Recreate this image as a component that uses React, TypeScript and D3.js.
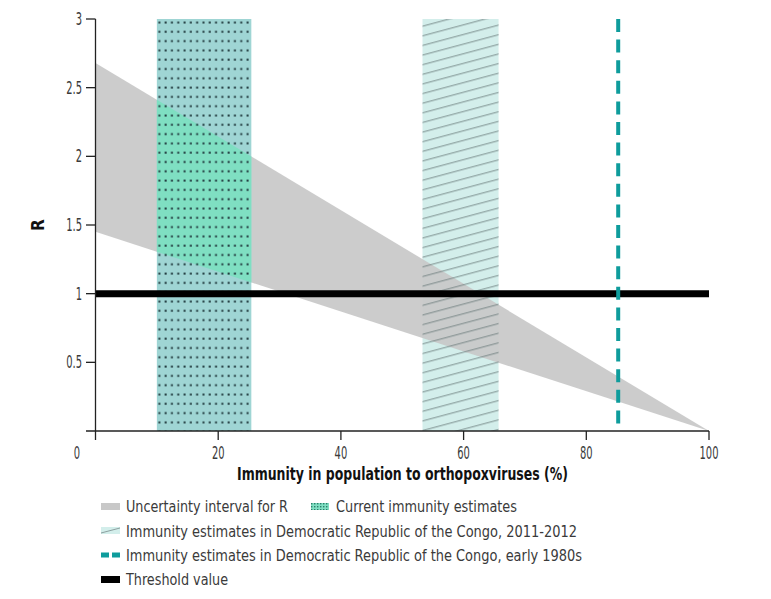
import React from "react";
import * as d3 from "d3";

const W = 771;
const H = 599;

// data
const bandX = [0, 100];
const bandUpper = [2.68, 0];
const bandLower = [1.45, 0];
const currentImmunity = [10, 25.4];
const drc2011 = [53.3, 65.7];
const drc1980s = 85.2;
const threshold = 1;
const xTicks = [20, 40, 60, 80, 100];
const yTicks = [0.5, 1, 1.5, 2, 2.5, 3];
const yTickLabels = ["0.5", "1", "1.5", "2", "2.5", "3"];
const legendItems = [
  "Uncertainty interval for R",
  "Current immunity estimates",
  "Immunity estimates in Democratic Republic of the Congo, 2011-2012",
  "Immunity estimates in Democratic Republic of the Congo, early 1980s",
  "Threshold value",
];
const legendWidths = [162, 181, 451, 456, 102];

const FONT = "'DejaVu Sans Condensed', 'Liberation Sans Narrow', sans-serif";

export default function App() {
  const x = d3.scaleLinear().domain([0, 100]).range([95.5, 709]);
  const y = d3.scaleLinear().domain([0, 3]).range([431, 19]);

  const bandPts = bandX.map((v, i) => ({ x: v, hi: bandUpper[i], lo: bandLower[i] }));
  const area = d3
    .area<{ x: number; hi: number; lo: number }>()
    .x((d) => x(d.x))
    .y0((d) => y(d.lo))
    .y1((d) => y(d.hi));
  const bandPath = area(bandPts) || "";

  const grey = "#c8c8c8";
  const tealLight = "#9fd5d4";
  const green = "#7fdfc2";
  const hatchFill = "#d3eeeb";
  const dashTeal = "#0e9c9c";
  const textCol = "#3a3a3a";
  const tickFs = 17;
  const tickSx = 0.65;

  return (
    <svg
      width={W}
      height={H}
      style={{ position: "absolute", left: 0, top: 0, background: "#fff" }}
      fontFamily={FONT}
    >
      <defs>
        <pattern
          id="dots"
          patternUnits="userSpaceOnUse"
          width={6.3}
          height={9.3}
          x={x(currentImmunity[0]) + 1}
          y={y(3) + 2}
        >
          <rect x={0.5} y={0.5} width={2} height={2} fill="#223c40" />
        </pattern>
        <pattern id="dotsLeg" patternUnits="userSpaceOnUse" width={3} height={3} x={311} y={503}>
          <rect x={0} y={0} width={1.4} height={1.4} fill="#2c7d6a" />
        </pattern>
        <pattern
          id="hatch"
          patternUnits="userSpaceOnUse"
          width={60}
          height={9.3}
          patternTransform="rotate(-15)"
        >
          <line x1={0} x2={60} y1={4.5} y2={4.5} stroke="#667777" strokeWidth={0.8} />
        </pattern>
        <clipPath id="bandClip">
          <path d={bandPath} />
        </clipPath>
      </defs>

      {/* hatch band fill */}
      <rect
        x={x(drc2011[0])}
        y={y(3)}
        width={x(drc2011[1]) - x(drc2011[0])}
        height={y(0) - y(3)}
        fill={hatchFill}
      />

      {/* uncertainty band */}
      <path d={bandPath} fill={grey} opacity={0.92} />

      {/* hatch lines */}
      <rect
        x={x(drc2011[0])}
        y={y(3)}
        width={x(drc2011[1]) - x(drc2011[0])}
        height={y(0) - y(3)}
        fill="url(#hatch)"
      />

      {/* current immunity band */}
      <rect
        x={x(currentImmunity[0])}
        y={y(3)}
        width={x(currentImmunity[1]) - x(currentImmunity[0])}
        height={y(0) - y(3)}
        fill={tealLight}
      />
      <rect
        x={x(currentImmunity[0])}
        y={y(3)}
        width={x(currentImmunity[1]) - x(currentImmunity[0])}
        height={y(0) - y(3)}
        fill={green}
        clipPath="url(#bandClip)"
      />
      <rect
        x={x(currentImmunity[0])}
        y={y(3)}
        width={x(currentImmunity[1]) - x(currentImmunity[0])}
        height={y(0) - y(3)}
        fill="url(#dots)"
      />

      {/* threshold */}
      <line x1={x(0)} x2={x(100)} y1={y(threshold)} y2={y(threshold)} stroke="#000" strokeWidth={7} />

      {/* 1980s dashed */}
      <line
        x1={x(drc1980s)}
        x2={x(drc1980s)}
        y1={y(3)}
        y2={y(0)}
        stroke={dashTeal}
        strokeWidth={4}
        strokeDasharray="13 7.6"
      />

      {/* axes */}
      <line x1={x(0)} x2={x(0)} y1={y(3)} y2={y(0)} stroke="#222" strokeWidth={1.3} />
      <line x1={86} x2={x(100)} y1={y(0)} y2={y(0)} stroke="#222" strokeWidth={1.3} />
      {yTicks.map((t, i) => (
        <g key={t}>
          <line x1={86} x2={x(0)} y1={y(t)} y2={y(t)} stroke="#222" strokeWidth={1.3} />
          <g transform={`translate(82 ${y(t)}) scale(${tickSx} 1)`}>
            <text x={0} y={0} dy="0.36em" textAnchor="end" fontSize={tickFs} fill={textCol}>
              {yTickLabels[i]}
            </text>
          </g>
        </g>
      ))}
      <line x1={x(0)} x2={x(0)} y1={y(0)} y2={y(0) + 9} stroke="#222" strokeWidth={1.3} />
      {xTicks.map((t) => (
        <g key={t}>
          <line x1={x(t)} x2={x(t)} y1={y(0)} y2={y(0) + 9} stroke="#222" strokeWidth={1.3} />
          <g transform={`translate(${x(t)} 459) scale(${tickSx} 1)`}>
            <text x={0} y={0} textAnchor="middle" fontSize={tickFs} fill={textCol}>
              {t}
            </text>
          </g>
        </g>
      ))}
      <g transform={`translate(77 459) scale(${tickSx} 1)`}>
        <text x={0} y={0} textAnchor="middle" fontSize={tickFs} fill={textCol}>
          0
        </text>
      </g>

      {/* axis titles */}
      <text
        x={237}
        y={480}
        fontSize={17}
        fontWeight="bold"
        fill="#111"
        textLength={331}
        lengthAdjust="spacingAndGlyphs"
      >
        Immunity in population to orthopoxviruses (%)
      </text>
      <text
        transform={`translate(44, ${y(1.5)}) rotate(-90)`}
        textAnchor="middle"
        fontSize={17}
        fontWeight="bold"
        fill="#111"
      >
        R
      </text>

      {/* legend */}
      <g fontSize={16} fill={textCol}>
        <rect x={101} y={503} width={19} height={7} fill={grey} />
        <text x={126} y={512} textLength={legendWidths[0]} lengthAdjust="spacingAndGlyphs">
          {legendItems[0]}
        </text>

        <rect x={311} y={503} width={18} height={7} fill={green} />
        <rect x={311} y={503} width={18} height={7} fill="url(#dotsLeg)" />
        <text x={336} y={512} textLength={legendWidths[1]} lengthAdjust="spacingAndGlyphs">
          {legendItems[1]}
        </text>

        <rect x={101} y={527} width={19} height={7} fill={hatchFill} />
        <line x1={101} x2={120} y1={533} y2={528} stroke="#7a8c8c" strokeWidth={0.8} />
        <text x={126} y={537} textLength={legendWidths[2]} lengthAdjust="spacingAndGlyphs">
          {legendItems[2]}
        </text>

        <line x1={101} x2={120} y1={555} y2={555} stroke={dashTeal} strokeWidth={5} strokeDasharray="8 3" />
        <text x={126} y={561} textLength={legendWidths[3]} lengthAdjust="spacingAndGlyphs">
          {legendItems[3]}
        </text>

        <rect x={101} y={576} width={19} height={7} fill="#000" />
        <text x={126} y={585} textLength={legendWidths[4]} lengthAdjust="spacingAndGlyphs">
          {legendItems[4]}
        </text>
      </g>
    </svg>
  );
}
